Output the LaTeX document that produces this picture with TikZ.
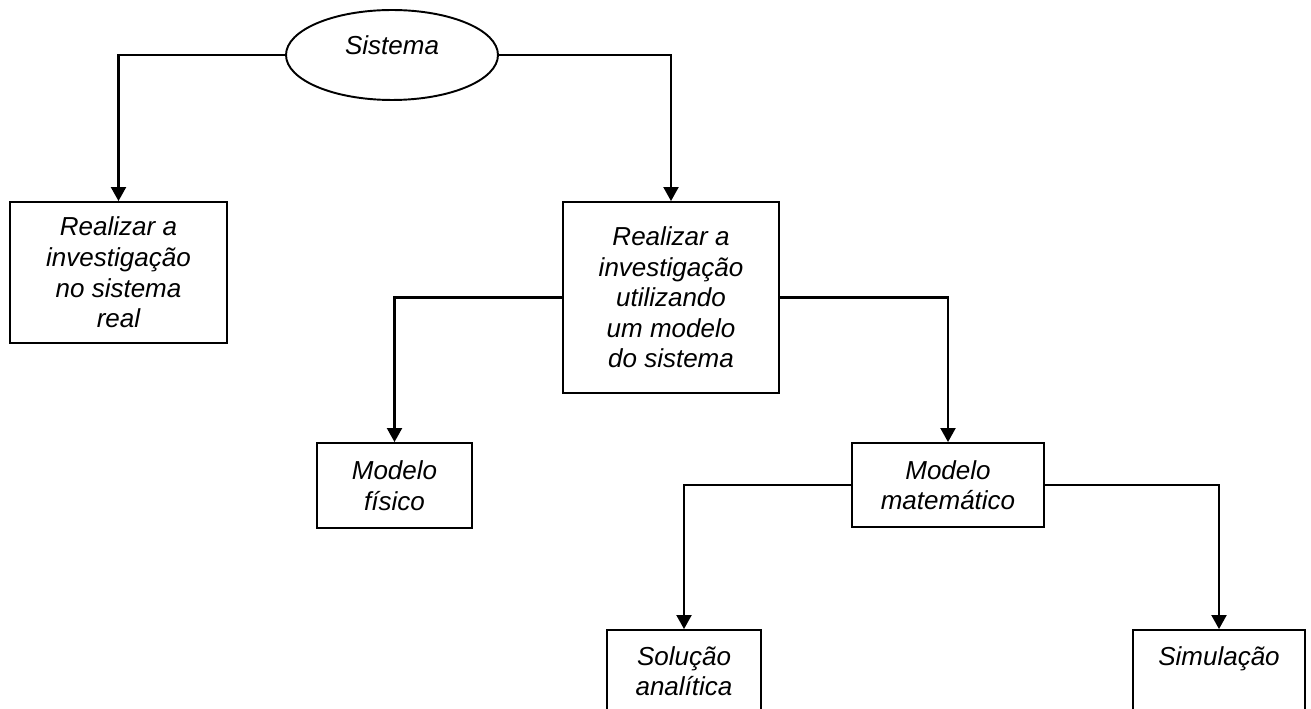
\documentclass[tikz,border=0pt]{standalone}
\usepackage{fontspec}
\setmainfont{Liberation Sans}
\usetikzlibrary{shapes.geometric,arrows.meta}

\begin{document}
\begin{tikzpicture}[x=0.02cm, y=-0.02cm,
        caixa/.style={draw, line width=1.1pt, inner sep=0pt, align=center,
            font=\fontsize{14.8}{17.4}\selectfont\itshape},
        seta/.style={line width=1.2pt, -{Triangle[length=0.28cm, width=0.3cm]}},
        linha/.style={line width=1.2pt}]
        \useasboundingbox (0,0) rectangle (1311,709);
        \clip (0,0) rectangle (1311,709);

        \node[caixa, ellipse, minimum width=4.24cm, minimum height=1.8cm,
            text height=0.37cm, text depth=0.37cm] (sis) at (392,55) {Sistema};
        \node[caixa, minimum width=4.34cm, minimum height=2.82cm] (real) at (118.5,272.5) {Realizar a\\investigação\\no sistema\\real};
        \node[caixa, minimum width=4.32cm, minimum height=3.82cm] (inv) at (671,297.5) {Realizar a\\investigação\\utilizando\\um modelo\\do sistema};
        \node[caixa, minimum width=3.1cm, minimum height=1.7cm] (fis) at (394.5,485.5) {Modelo\\físico};
        \node[caixa, minimum width=3.84cm, minimum height=1.68cm] (mat) at (948,485) {Modelo\\matemático};
        \node[caixa, minimum width=3.08cm, minimum height=1.64cm] (sol) at (684,671) {Solução\\analítica};
        \node[caixa, minimum width=3.44cm, minimum height=1.64cm] (sim) at (1219,671) {Simulação\\\mbox{}};

        \draw[seta] (sis.west) -| (real.north);
        \draw[seta] (sis.east) -| (inv.north);
        \draw[seta] (inv.west) -| (fis.north);
        \draw[seta] (inv.east) -| (mat.north);
        \draw[seta] (mat.west) -| (sol.north);
        \draw[seta] (mat.east) -| (sim.north);
    \end{tikzpicture}
\end{document}
